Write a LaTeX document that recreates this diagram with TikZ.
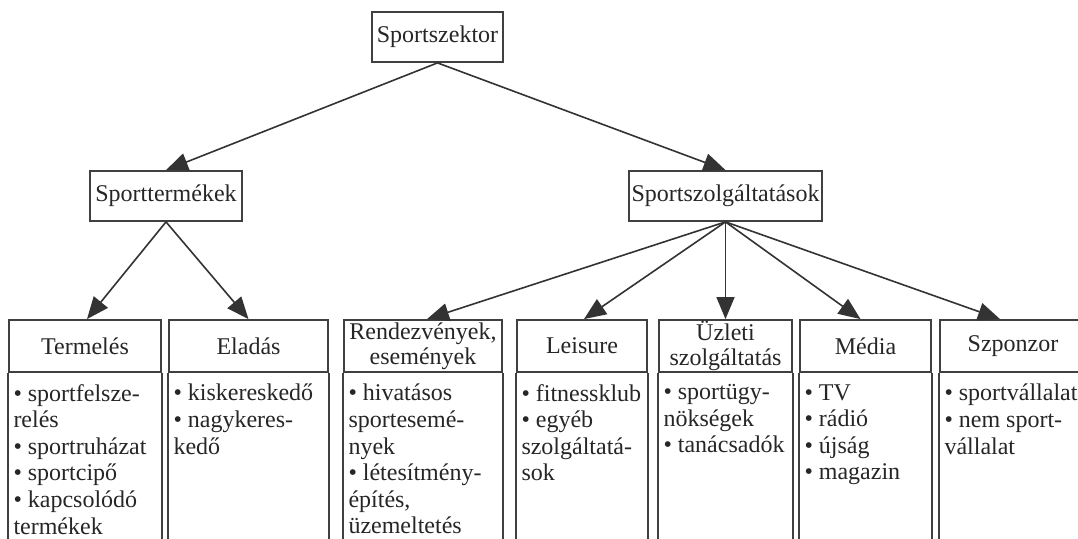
\documentclass[tikz,border=0pt]{standalone}
\usepackage{fontspec}
\setmainfont{Liberation Serif}
\usetikzlibrary{arrows.meta,calc}
\begin{document}
\begin{tikzpicture}[x=0.5pt,y=-0.5pt,
  every node/.style={font=\fontsize{12}{13.3}\selectfont, text=black!85},
  topbox/.style={draw=black!75, line width=0.9pt, minimum height=25pt, inner sep=0pt},
  hdr/.style={draw=black!75, line width=0.9pt, minimum height=26pt, inner sep=0pt, align=center},
  frame/.style={draw=black!75, line width=0.9pt},
  bodytxt/.style={anchor=north west, align=left, inner sep=0pt, xshift=2.5pt, yshift=-5.5pt},
  conn/.style={draw=black!80, line width=0.8pt, -{Triangle[length=11pt,width=9pt]}}]
\useasboundingbox (0,0) rectangle (1078,539);
\clip (0,0) rectangle (1078,539);
\fill[white] (0,0) rectangle (1078,539);

% top levels
\node[topbox, minimum width=65.5pt] (s0) at (437.5,37) {Sportszektor};
\node[topbox, minimum width=76pt] (st) at (166,196) {Sporttermékek};
\node[topbox, minimum width=96.5pt] (ss) at (725.5,196) {Sportszolgáltatások};

% bottom headers
\node[hdr, minimum width=76pt] (h1) at (85,346) {Termelés};
\node[hdr, minimum width=79.5pt] (h2) at (248.5,346) {Eladás};
\node[hdr, minimum width=79pt] (h3) at (423,346) {Rendezvények,\\[-1pt]események};
\node[hdr, minimum width=65pt] (h4) at (582,346) {Leisure};
\node[hdr, minimum width=66.5pt] (h5) at (725.5,346) {Üzleti\\[-1pt]szolgáltatás};
\node[hdr, minimum width=65.5pt] (h6) at (865.5,346) {Média};
\node[hdr, minimum width=73pt] (h7) at (1013,346) {Szponzor};

% body frames
\foreach \h in {h1,h2,h3,h4,h5,h6,h7}{
  \draw[frame] (\h.south west) -- ($(\h.south west)+(0,220)$);
  \draw[frame] (\h.south east) -- ($(\h.south east)+(0,220)$);
}

% body texts
\node[bodytxt] (b1) at (h1.south west) {• sportfelsze-\\relés\\• sportruházat\\• sportcipő\\• kapcsolódó\\termékek};
\node[bodytxt] (b2) at (h2.south west) {• kiskereskedő\\• nagykeres-\\kedő};
\node[bodytxt] (b3) at (h3.south west) {• hivatásos\\sportesemé-\\nyek\\• létesítmény-\\építés,\\üzemeltetés};
\node[bodytxt] (b4) at (h4.south west) {• fitnessklub\\• egyéb\\szolgáltatá-\\sok};
\node[bodytxt] (b5) at (h5.south west) {• sportügy-\\nökségek\\• tanácsadók};
\node[bodytxt] (b6) at (h6.south west) {• TV\\• rádió\\• újság\\• magazin};
\node[bodytxt] (b7) at (h7.south west) {• sportvállalat\\• nem sport-\\vállalat};

% connectors
\draw[conn] (s0.south) -- (st.north);
\draw[conn] (s0.south) -- (ss.north);
\draw[conn] (st.south) -- ([xshift=1pt]h1.north);
\draw[conn] (st.south) -- (h2.north);
\draw[conn] (ss.south) -- ([xshift=2pt]h3.north);
\draw[conn] (ss.south) -- ([xshift=1pt]h4.north);
\draw[conn] (ss.south) -- (h5.north);
\draw[conn] (ss.south) -- ([xshift=-2.5pt]h6.north);
\draw[conn] (ss.south) -- ([xshift=-6.5pt]h7.north);
\end{tikzpicture}
\end{document}
